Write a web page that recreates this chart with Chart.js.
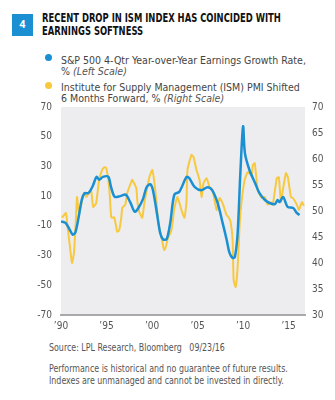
<!DOCTYPE html>
<html>
<head>
<meta charset="utf-8">
<script src="https://cdn.jsdelivr.net/npm/chart.js@4"></script>
<style>
  body { margin: 0; width: 335px; height: 400px; background: #fff; position: relative; overflow: hidden;
         font-family: "DejaVu Sans Condensed", "DejaVu Sans", sans-serif; }
  .abs { position: absolute; white-space: nowrap; transform-origin: 0 0; }
  #num { left: 12px; top: 14px; width: 21px; height: 22px; background: #1a8fd2; color: #fff;
         font: bold 11px Roboto, sans-serif; text-align: center; line-height: 22px; }
  #title { left: 42px; top: 11px; font-weight: bold; font-size: 13px; line-height: 13px; color: #111;
           transform: scaleX(0.72); }
  .dot { width: 7px; height: 7px; border-radius: 50%; }
  .leg { left: 61px; font-size: 10.5px; line-height: 10.5px; color: #444; }
  .leg i { color: #555; }
  .note { left: 49px; font-size: 10px; color: #555; transform: scaleX(0.88); }
  #wrap { position: absolute; left: 0; top: 92px; width: 335px; height: 248px; }
</style>
</head>
<body>
<div id="num" class="abs">4</div>
<div id="title" class="abs">RECENT DROP IN ISM INDEX HAS COINCIDED WITH<br>EARNINGS SOFTNESS</div>

<div class="abs dot" style="left:45px; top:54px; background:#1a8fd2;"></div>
<div class="abs leg" style="top:55px;">S&amp;P 500 4-Qtr Year-over-Year Earnings Growth Rate,<br>% <i>(Left Scale)</i></div>
<div class="abs dot" style="left:45px; top:82px; background:#f7c940;"></div>
<div class="abs leg" style="top:82px;">Institute for Supply Management (ISM) PMI Shifted<br>6 Months Forward, % <i>(Right Scale)</i></div>

<div id="wrap"><canvas id="chart"></canvas></div>

<div class="abs note" style="top:342px;">Source: LPL Research, Bloomberg &nbsp;&nbsp;09/23/16</div>
<div class="abs note" style="top:363px; line-height:12px;">Performance is historical and no guarantee of future results.<br>Indexes are unmanaged and cannot be invested in directly.</div>

<script>
// S&P 500 4-qtr y/y earnings growth, % (left axis)
const spYears = [1990.0, 1990.5, 1991.0, 1991.3, 1991.6, 1992.0, 1992.3, 1992.6, 1993.0, 1993.5, 1993.9,
  1994.2, 1994.6, 1995.2, 1995.5, 1995.9, 1996.5, 1997.1, 1997.6, 1998.1, 1998.5, 1999.0, 1999.4, 1999.8,
  2000.1, 2000.6, 2000.9, 2001.2, 2001.6, 2002.0, 2002.45, 2003.0, 2003.8, 2004.1, 2004.7, 2005.4, 2006.1,
  2006.6, 2007.2, 2007.75, 2008.2, 2008.5, 2008.85, 2009.1, 2009.4, 2009.7, 2010.0, 2010.2, 2010.7, 2011.3,
  2011.8, 2012.4, 2012.9, 2013.5, 2013.8, 2014.0, 2014.4, 2014.9, 2015.5, 2015.9, 2016.2];
const spGrowth = [-7, -8, -13, -16, -14, -2, 8, 12, 12, 17, 23,
  21, 23, 23, 16, 9.5, 10, 11, 6, -0.5, 2, 8, 16, 18,
  14, -4, -15, -19, -19, -8, 11, 13, 23, 22, 16, 14, 16,
  14, 5.4, -8, -19.5, -28, -31.6, -31, -15, 25.6, 57, 39, 27.6, 19,
  12, 7.4, 5.4, 4.7, 7.4, 6, 9.4, 2.7, 2, -1.3, -2.7];

// ISM PMI shifted 6 months forward (right axis)
const ismYears = [1990.1, 1990.55, 1990.66, 1990.99, 1991.21, 1991.43, 1991.65, 1991.76, 1991.98, 1992.32,
  1992.54, 1992.76, 1993.09, 1993.31, 1993.53, 1993.86, 1994.19, 1994.52, 1994.74, 1994.96, 1995.29, 1995.51,
  1995.62, 1995.84, 1996.06, 1996.17, 1996.39, 1996.62, 1996.73, 1997.06, 1997.28, 1997.72, 1997.83, 1998.27,
  1998.38, 1998.6, 1998.93, 1999.15, 1999.37, 1999.7, 2000.03, 2000.25, 2000.47, 2000.69, 2001.03, 2001.25,
  2001.36, 2001.58, 2001.69, 2002.13, 2002.46, 2002.79, 2003.23, 2003.56, 2003.78, 2003.89, 2004.33, 2004.55,
  2004.88, 2005.21, 2005.44, 2005.66, 2005.99, 2006.32, 2006.65, 2007.09, 2007.42, 2007.75, 2008.19, 2008.41,
  2008.63, 2008.85, 2008.96, 2009.18, 2009.4, 2009.63, 2009.85, 2010.18, 2010.51, 2010.95, 2011.06, 2011.28,
  2011.61, 2012.05, 2012.38, 2012.71, 2013.04, 2013.26, 2013.7, 2013.93, 2014.15, 2014.37, 2014.7, 2014.92,
  2015.25, 2015.47, 2015.91, 2016.13, 2016.46, 2016.68];
const ismPmi = [48.7, 49.6, 47.9, 43, 40, 42, 48.8, 52.7, 49.6, 52,
  53.5, 52.7, 53.5, 54, 50.8, 51.5, 56, 57.9, 58.4, 58.3, 54.6, 48.8,
  48.7, 48.8, 47, 46, 46.3, 48.7, 50.6, 51.2, 53.5, 55.6, 56, 54.4,
  52, 49.8, 48.7, 51.5, 53.6, 56.5, 57.9, 55.6, 52, 47.7, 45, 43,
  42.5, 43.5, 44.5, 46.3, 50.6, 52.7, 50.2, 48.7, 51.7, 57.9, 60.8, 60.4,
  57.9, 56, 52.7, 55.4, 56.3, 54.6, 54, 50.2, 52.5, 51.5, 49.2, 48.8,
  47.9, 44.4, 36.7, 35.4, 39.2, 47.7, 52.1, 56, 57.5, 56.9, 58.8, 59.2,
  54, 52.5, 52.7, 51.2, 51.7, 51.2, 56.3, 56.5, 51.7, 54, 57.3, 56.5,
  52.7, 52.5, 51.2, 50.2, 51.7, 51];

const yearTicks = [1990, 1995, 2000, 2005, 2010, 2015];
const leftTicks = [-70, -50, -30, -10, 10, 30, 50, 70];
const rightTicks = [30, 35, 40, 45, 50, 55, 60, 65, 70];

const BLUE = '#1a8fd2';
const GOLD = '#f7c940';
const tickFont = { family: '"DejaVu Sans Condensed", "DejaVu Sans", sans-serif', size: 10 };

// light grey panel behind the plot area
const plotBg = {
  id: 'plotBg',
  beforeDraw(chart) {
    const { ctx, chartArea: a } = chart;
    ctx.save();
    ctx.fillStyle = '#ededf0';
    ctx.fillRect(a.left, a.top, a.right - a.left, a.bottom - a.top);
    ctx.restore();
  }
};

new Chart(document.getElementById('chart'), {
  type: 'line',
  data: {
    datasets: [
      {
        label: 'S&P 500',
        data: spYears.map((x, i) => ({ x, y: spGrowth[i] })),
        yAxisID: 'yL',
        borderColor: BLUE,
        borderWidth: 2.5,
        pointRadius: 0,
        tension: 0.3,
        order: 0
      },
      {
        label: 'ISM',
        data: ismYears.map((x, i) => ({ x, y: ismPmi[i] })),
        yAxisID: 'yR',
        borderColor: GOLD,
        borderWidth: 2,
        pointRadius: 0,
        tension: 0.15,
        order: 1
      }
    ]
  },
  options: {
    responsive: true,
    maintainAspectRatio: false,
    animation: false,
    layout: { padding: { top: 7, left: 0, right: 0, bottom: 0 } },
    plugins: { legend: { display: false }, tooltip: { enabled: false } },
    scales: {
      x: {
        type: 'linear',
        min: 1990,
        max: 2016.8,
        afterBuildTicks: s => { s.ticks = yearTicks.map(v => ({ value: v })); },
        afterFit: s => { s.height = 25; },
        grid: { display: false, drawTicks: false },
        border: { display: true, color: '#a9a9ad', width: 2 },
        ticks: {
          padding: 5,
          color: '#555',
          font: tickFont,
          maxRotation: 0,
          callback: v => '\u2019' + String(v).slice(2)
        }
      },
      yL: {
        position: 'left',
        min: -70,
        max: 70,
        afterBuildTicks: s => { s.ticks = leftTicks.map(v => ({ value: v })); },
        afterFit: s => { s.width = 61; },
        grid: { display: false, drawTicks: false },
        border: { display: false },
        ticks: { padding: 9, color: '#555', font: tickFont }
      },
      yR: {
        position: 'right',
        min: 30,
        max: 70,
        afterBuildTicks: s => { s.ticks = rightTicks.map(v => ({ value: v })); },
        afterFit: s => { s.width = 30; },
        grid: { display: false, drawTicks: false },
        border: { display: false },
        ticks: { padding: 7, color: '#555', font: tickFont }
      }
    }
  },
  plugins: [plotBg]
});
</script>
</body>
</html>
